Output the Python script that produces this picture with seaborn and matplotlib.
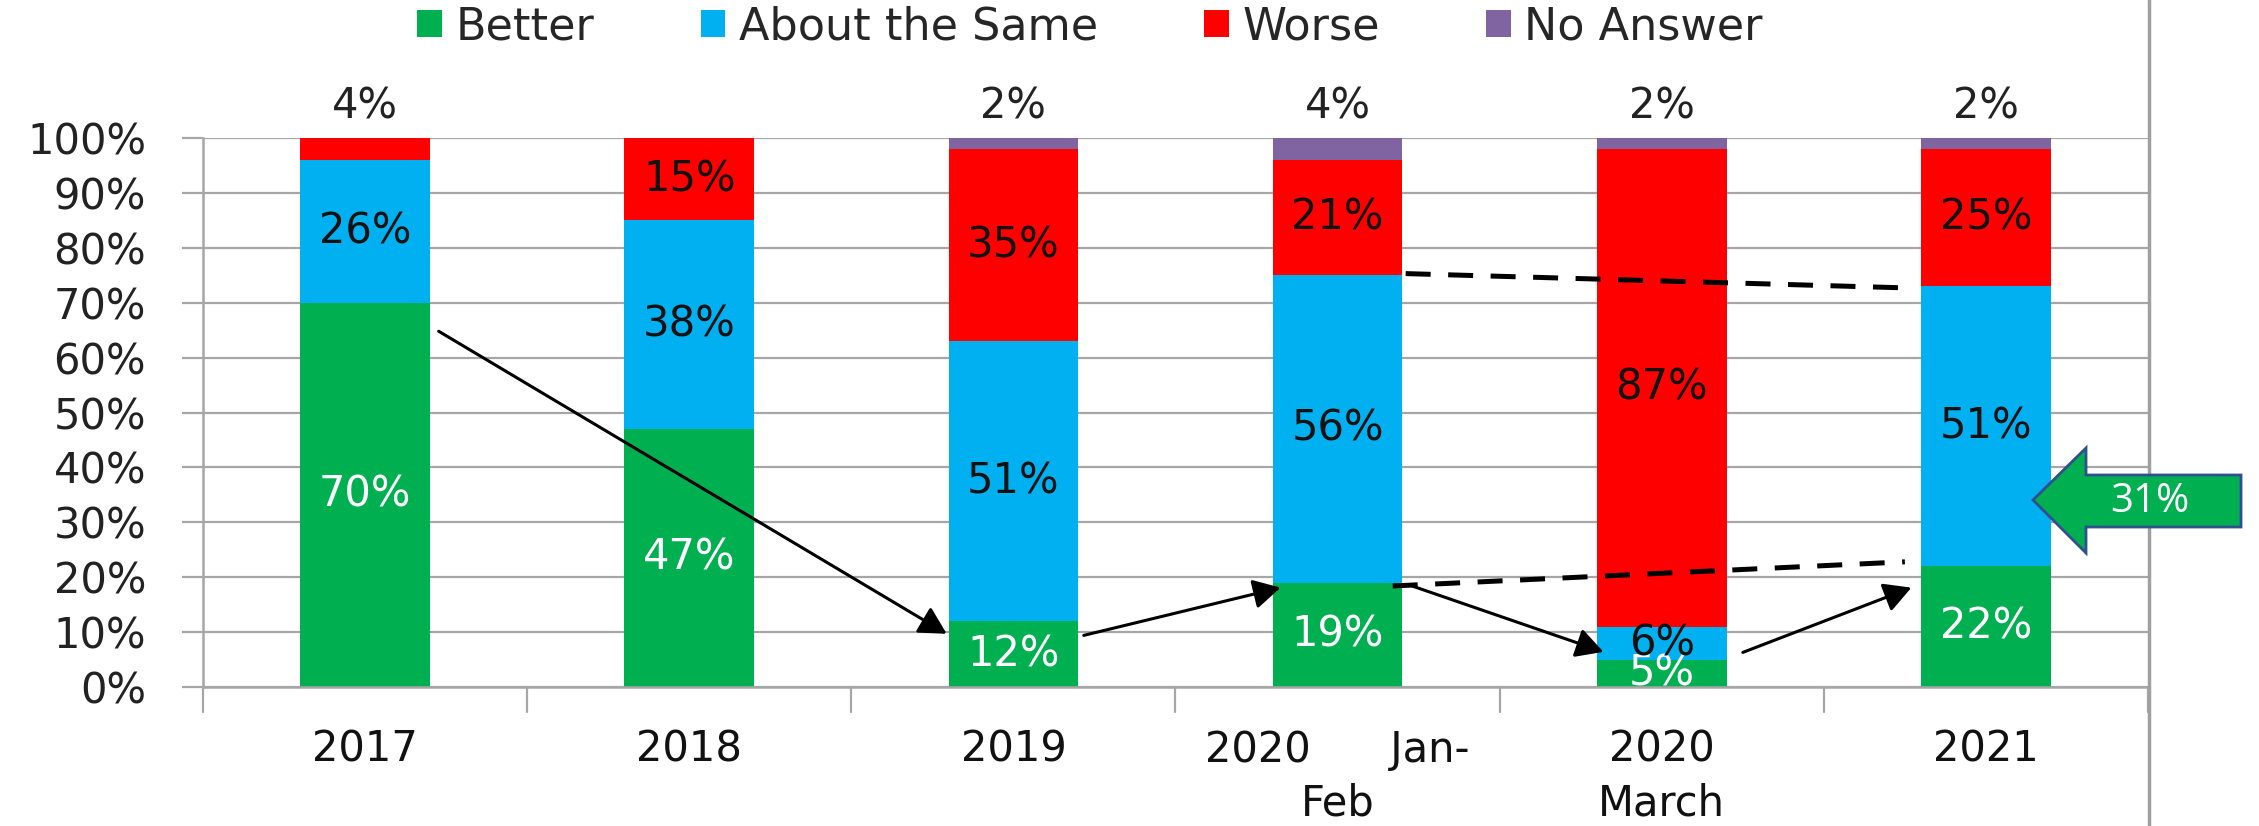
import matplotlib
matplotlib.use("Agg")
import matplotlib.pyplot as plt
import seaborn as sns
import numpy as np
from matplotlib.patches import Patch, Polygon
from matplotlib.lines import Line2D

categories = ["2017", "2018", "2019", "2020      Jan-\nFeb", "2020\nMarch", "2021"]
better = [70, 47, 12, 19, 5, 22]
same = [26, 38, 51, 56, 6, 51]
worse = [4, 15, 35, 21, 87, 25]
no_answer = [0, 0, 2, 4, 2, 2]
series_names = ["Better", "About the Same", "Worse", "No Answer"]
colors = ["#00B050", "#00B0F0", "#FF0000", "#8064A2"]
yticks = [0, 10, 20, 30, 40, 50, 60, 70, 80, 90, 100]
callout_value = "31%"

sns.set_theme(style="white")
plt.rcParams["font.family"] = ["DejaVu Sans"]

W, H = 2259, 826
fig = plt.figure(figsize=(W / 100, H / 100), dpi=100)
ax = fig.add_axes([203 / W, 1 - 687 / H, (2148 - 203) / W, (687 - 138) / H])

grid_c = "#A6A6A6"
for y in yticks:
    ax.axhline(y, color=grid_c, lw=1.6, zorder=0)

bottom = np.zeros(len(categories))
all_series = [better, same, worse, no_answer]
for vals, name, c in zip(all_series, series_names, colors):
    sns.barplot(x=categories, y=vals, bottom=bottom, color=c, width=0.4,
                ax=ax, saturation=1, zorder=2, linewidth=0)
    bottom = bottom + np.array(vals)

ax.set_ylim(0, 100)
ax.set_xlim(-0.5, len(categories) - 0.5)

# value labels
fs = 30
bottom = np.zeros(len(categories))
for si, vals in enumerate(all_series):
    for i, v in enumerate(vals):
        b = bottom[i]
        if v <= 0:
            continue
        if si == 3 or (si == 2 and v < 5):
            ax.text(i, 105.8, f"{v}%", ha="center", va="center", fontsize=fs,
                    color="#222222", clip_on=False)
        else:
            col = "white" if si == 0 else "#111111"
            ax.text(i, b + v / 2, f"{v}%", ha="center", va="center", fontsize=fs,
                    color=col, clip_on=True, zorder=5)
    bottom = bottom + np.array(vals)

ax.set_yticks(yticks)
ax.set_yticklabels([f"{t}%" for t in yticks], fontsize=fs, color="#222222")
ax.set_xticks(range(len(categories)))
ax.set_xticklabels(categories, fontsize=fs, color="#111111", linespacing=1.35)
ax.tick_params(axis="x", length=0, pad=30)
ax.tick_params(axis="y", length=15, width=1.6, color=grid_c, pad=26, left=True)
for bpos in np.arange(-0.5, len(categories), 1.0):
    ax.plot([bpos, bpos], [0, -4.5], color=grid_c, lw=1.6, clip_on=False)

for s in ["top", "right"]:
    ax.spines[s].set_visible(False)
ax.spines["left"].set_color(grid_c)
ax.spines["left"].set_linewidth(1.8)
ax.spines["bottom"].set_color(grid_c)
ax.spines["bottom"].set_linewidth(1.8)
ax.set_xlabel("")
ax.set_ylabel("")

# annotations: solid arrows
arrows = [((0.227, 64.8), (1.794, 9.7)),
          ((2.217, 9.4), (2.824, 18.1)),
          ((3.23, 18.4), (3.82, 6.4)),
          ((4.25, 6.3), (4.77, 18.1))]
for (x0, y0), (x1, y1) in arrows:
    ax.annotate("", xy=(x1, y1), xytext=(x0, y0),
                arrowprops=dict(arrowstyle="-|>,head_length=0.55,head_width=0.3",
                                lw=2.2, color="black",
                                mutation_scale=30, shrinkA=0, shrinkB=0),
                zorder=6)
# dashed lines
ax.plot([3.21, 4.75], [75.3, 72.7], color="black", lw=3.6,
        linestyle=(0, (5, 3.5)), zorder=6)
ax.plot([3.17, 4.75], [18.4, 22.8], color="black", lw=3.6,
        linestyle=(0, (5, 3.5)), zorder=6)

# right border line
fig.add_artist(Line2D([2149 / W, 2149 / W], [0, 1], color="#A0A0A0", lw=2.5,
                      transform=fig.transFigure))

# callout block arrow (figure pixel coordinates)
pts = [(2033, 500), (2086, 448), (2086, 475), (2241, 475), (2241, 527),
       (2086, 527), (2086, 553)]
poly = Polygon([(x / W, 1 - y / H) for x, y in pts], closed=True,
               facecolor="#00B050", edgecolor="#2F4F8F", lw=2,
               transform=fig.transFigure, zorder=10)
fig.add_artist(poly)
fig.text(2150 / W, 1 - 502 / H, callout_value, ha="center", va="center",
         fontsize=29, color="white", zorder=11, family="Open Sans")

handles = [Patch(facecolor=c, edgecolor="none") for c in colors]
fig.legend(handles, series_names, loc="center", bbox_to_anchor=(1090 / W, 1 - 27 / H),
           ncol=4, frameon=False, fontsize=32, handlelength=0.55, handleheight=0.55,
           handletextpad=0.3, columnspacing=2.4)

fig.savefig("out.png", dpi=100, facecolor="white")
